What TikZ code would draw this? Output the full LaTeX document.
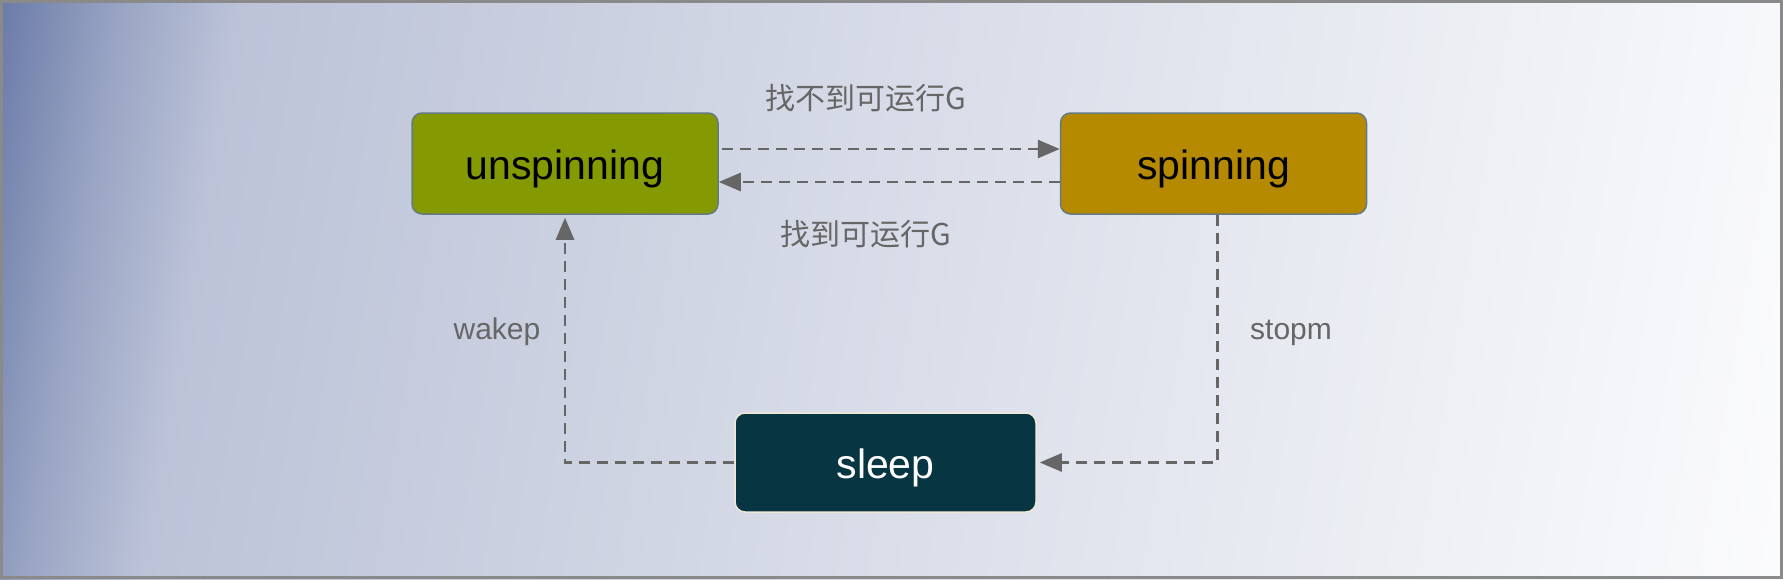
\documentclass[tikz,border=0pt]{standalone}
\usepackage{fontspec}
\setmainfont{Liberation Sans}
\newfontfamily\cjk{Noto Sans CJK SC}
\usetikzlibrary{arrows.meta}
\definecolor{bgA}{HTML}{6A7BA8}
\definecolor{bgM}{HTML}{9AA5C4}
\definecolor{bgB}{HTML}{BCC3D8}
\definecolor{bgC}{HTML}{D8DCE8}
\definecolor{bgD}{HTML}{EEF0F5}
\definecolor{bgE}{HTML}{FDFDFE}
\definecolor{framec}{HTML}{8A8A8A}
\definecolor{greenf}{HTML}{859900}
\definecolor{yellowf}{HTML}{B58900}
\definecolor{darkf}{HTML}{073642}
\definecolor{boxline}{HTML}{657B83}
\definecolor{sleepline}{HTML}{EEE8D5}
\definecolor{connc}{HTML}{666666}
\definecolor{lblc}{HTML}{666666}
\pgfdeclarehorizontalshading{bgshade}{1000bp}{color(0bp)=(bgA); color(120bp)=(bgM); color(235bp)=(bgB); color(900bp)=(bgC); color(1500bp)=(bgD); color(1900bp)=(bgE)}
\tikzset{
  statebox/.style={rounded corners=10pt, minimum width=306pt, minimum height=101pt,
    line width=1.5pt, draw=boxline, font=\fontsize{41}{49}\selectfont,
    inner sep=0pt, text height=32pt, text depth=0pt},
  lbl/.style={text=lblc, font=\fontsize{30}{36}\selectfont, inner sep=0pt},
  cjklbl/.style={text=lblc, font=\cjk\fontsize{30}{36}\selectfont, inner sep=0pt},
  conn/.style={draw=connc, line width=2.8pt, dash pattern=on 11pt off 7pt,
    -{Triangle[length=22pt,width=18pt]}},
  frame/.style={draw=framec, line width=3pt}
}
\begin{document}
\begin{tikzpicture}[x=1pt, y=-1pt]
\useasboundingbox (0,0) rectangle (1783,579);
\begin{scope}
  \clip (0,0) rectangle (1783,579);
  \node[inner sep=0pt, outer sep=0pt, rotate=-9.5, anchor=west] (bgsh) at (-23,138) {\pgfuseshading{bgshade}};
\end{scope}
\draw[frame] (1.5,1.5) rectangle (1781.5,577.5);

\node[statebox, fill=greenf] (unsp) at (565,163.5) {unspinning};
\node[statebox, fill=yellowf] (spin) at (1213.5,163.5) {spinning};
\node[statebox, minimum width=301pt, minimum height=99pt, fill=darkf, draw=sleepline, text=white] (sleep) at (885.5,462.5) {sleep};

\draw[conn, shorten <=3pt] ([yshift=14.5pt]unsp.east) -- ([yshift=14.5pt]spin.west);
\draw[conn] ([yshift=-18.5pt]spin.west) -- ([yshift=-18.5pt]unsp.east);
\draw[conn, shorten >=3pt] ([xshift=4pt]spin.south) |- (sleep.east);
\draw[conn, shorten >=3pt] (sleep.west) -| (unsp.south);

\node[cjklbl, anchor=base] (l1) at (866,109) {找不到可运行G};
\node[cjklbl, anchor=base] (l2) at (866,245) {找到可运行G};
\node[lbl, anchor=base] (lw) at (497,339) {wakep};
\node[lbl, anchor=base] (ls) at (1291,339) {stopm};
\end{tikzpicture}
\end{document}
